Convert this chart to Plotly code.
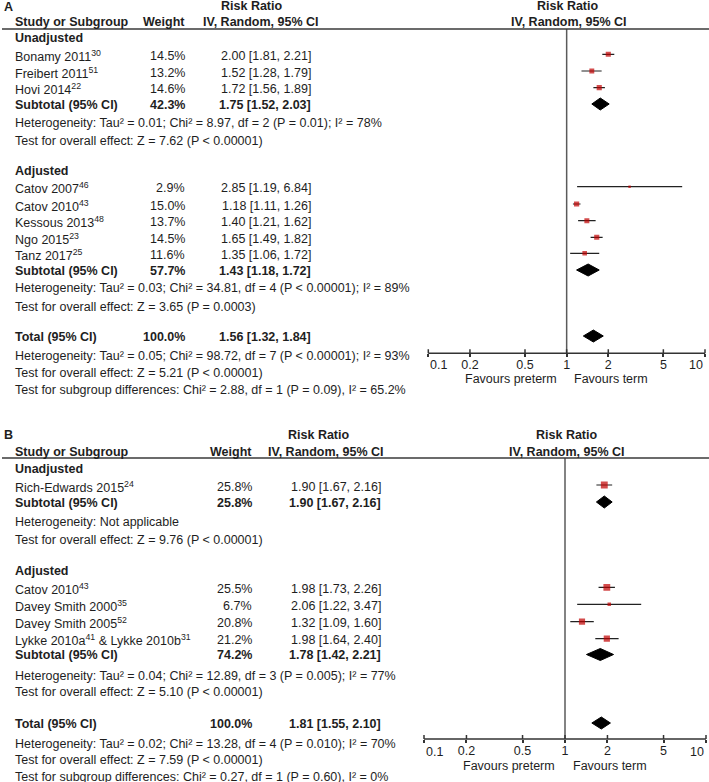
import math
import plotly.graph_objects as go

# ---------------- DATA ----------------
# Panel A
A_unadj_names = ["Bonamy 2011", "Freibert 2011", "Hovi 2014"]
A_unadj_refs = ["30", "51", "22"]
A_unadj_weight = [14.5, 13.2, 14.6]
A_unadj_rr = [2.00, 1.52, 1.72]
A_unadj_lo = [1.81, 1.28, 1.56]
A_unadj_hi = [2.21, 1.79, 1.89]
A_unadj_sub = [42.3, 1.75, 1.52, 2.03]   # weight, rr, lo, hi
A_unadj_het = "Heterogeneity: Tau² = 0.01; Chi² = 8.97, df = 2 (P = 0.01); I² = 78%"
A_unadj_test = "Test for overall effect: Z = 7.62 (P &lt; 0.00001)"

A_adj_names = ["Catov 2007", "Catov 2010", "Kessous 2013", "Ngo 2015", "Tanz 2017"]
A_adj_refs = ["46", "43", "48", "23", "25"]
A_adj_weight = [2.9, 15.0, 13.7, 14.5, 11.6]
A_adj_rr = [2.85, 1.18, 1.40, 1.65, 1.35]
A_adj_lo = [1.19, 1.11, 1.21, 1.49, 1.06]
A_adj_hi = [6.84, 1.26, 1.62, 1.82, 1.72]
A_adj_sub = [57.7, 1.43, 1.18, 1.72]
A_adj_het = "Heterogeneity: Tau² = 0.03; Chi² = 34.81, df = 4 (P &lt; 0.00001); I² = 89%"
A_adj_test = "Test for overall effect: Z = 3.65 (P = 0.0003)"

A_total = [100.0, 1.56, 1.32, 1.84]
A_total_het = "Heterogeneity: Tau² = 0.05; Chi² = 98.72, df = 7 (P &lt; 0.00001); I² = 93%"
A_total_test = "Test for overall effect: Z = 5.21 (P &lt; 0.00001)"
A_subgroup = "Test for subgroup differences: Chi² = 2.88, df = 1 (P = 0.09), I² = 65.2%"

# Panel B
B_unadj_names = ["Rich-Edwards 2015"]
B_unadj_refs = ["24"]
B_unadj_weight = [25.8]
B_unadj_rr = [1.90]
B_unadj_lo = [1.67]
B_unadj_hi = [2.16]
B_unadj_sub = [25.8, 1.90, 1.67, 2.16]
B_unadj_het = "Heterogeneity: Not applicable"
B_unadj_test = "Test for overall effect: Z = 9.76 (P &lt; 0.00001)"

B_adj_names = ["Catov 2010<sup>43</sup>", "Davey Smith 2000<sup>35</sup>", "Davey Smith 2005<sup>52</sup>",
               "Lykke 2010a<sup>41</sup> &amp; Lykke 2010b<sup>31</sup>"]
B_adj_refs = ["", "", "", ""]
B_adj_weight = [25.5, 6.7, 20.8, 21.2]
B_adj_rr = [1.98, 2.06, 1.32, 1.98]
B_adj_lo = [1.73, 1.22, 1.09, 1.64]
B_adj_hi = [2.26, 3.47, 1.60, 2.40]
B_adj_sub = [74.2, 1.78, 1.42, 2.21]
B_adj_het = "Heterogeneity: Tau² = 0.04; Chi² = 12.89, df = 3 (P = 0.005); I² = 77%"
B_adj_test = "Test for overall effect: Z = 5.10 (P &lt; 0.00001)"

B_total = [100.0, 1.81, 1.55, 2.10]
B_total_het = "Heterogeneity: Tau² = 0.02; Chi² = 13.28, df = 4 (P = 0.010); I² = 70%"
B_total_test = "Test for overall effect: Z = 7.59 (P &lt; 0.00001)"
B_subgroup = "Test for subgroup differences: Chi² = 0.27, df = 1 (P = 0.60), I² = 0%"

tick_vals = [0.1, 0.2, 0.5, 1, 2, 5, 10]
tick_text = ["0.1", "0.2", "0.5", "1", "2", "5", "10"]
null_effect = 1.0

# ---------------- LAYOUT / STYLE ----------------
W, H = 709, 782
FONT = "Liberation Sans, Arial, Helvetica, sans-serif"
FS = 12.5
TXT = "#1e1e1e"
SQ = "#C00000"
PAD_DEC = 0.02  # extra log-decades on each side of the axis so end ticks are not clipped

panels = {
    "A": dict(xa="x", label_xy=(8, 7), rr_hdr_x=251, iv_hdr_x=260.5, hdr_rr_y=6, hdr_y=22, line_y=29,
              name_x=13, w_x=187, ci_x=313, plot_rr_x=567, plot_iv_x=568.5,
              dom=(428.3, 705), axis_y=353.3, tick_lbl_y=364.5, fav_y=379, fav_pre=559, fav_term=572,
              unadj_y=38, unadj_rows=[54.3, 71, 87.7], unadj_sub_y=104, unadj_het_y=123, unadj_test_y=141,
              adj_y=171, adj_rows=[186.7, 204, 220.7, 237.3, 253.3], adj_sub_y=270, adj_het_y=288, adj_test_y=306.5,
              tot_y=336, tot_het_y=355.5, tot_test_y=373, sub_y=390),
    "B": dict(xa="x2", label_xy=(8, 435), rr_hdr_x=318.7, iv_hdr_x=326.3, hdr_rr_y=435, hdr_y=452, line_y=458,
              name_x=13, w_x=254, ci_x=383, plot_rr_x=566, plot_iv_x=567,
              dom=(424, 706), axis_y=739, tick_lbl_y=751.5, fav_y=765.7, fav_pre=557, fav_term=570.7,
              unadj_y=469, unadj_rows=[485], unadj_sub_y=502, unadj_het_y=522, unadj_test_y=540,
              adj_y=571, adj_rows=[587.3, 604.3, 621.7, 638.7], adj_sub_y=654.5, adj_het_y=676, adj_test_y=692,
              tot_y=723, tot_het_y=744, tot_test_y=760, sub_y=777),
}

data = {
    "A": dict(un=(A_unadj_names, A_unadj_refs, A_unadj_weight, A_unadj_rr, A_unadj_lo, A_unadj_hi),
              un_sub=A_unadj_sub, un_het=A_unadj_het, un_test=A_unadj_test,
              ad=(A_adj_names, A_adj_refs, A_adj_weight, A_adj_rr, A_adj_lo, A_adj_hi),
              ad_sub=A_adj_sub, ad_het=A_adj_het, ad_test=A_adj_test,
              tot=A_total, tot_het=A_total_het, tot_test=A_total_test, subg=A_subgroup),
    "B": dict(un=(B_unadj_names, B_unadj_refs, B_unadj_weight, B_unadj_rr, B_unadj_lo, B_unadj_hi),
              un_sub=B_unadj_sub, un_het=B_unadj_het, un_test=B_unadj_test,
              ad=(B_adj_names, B_adj_refs, B_adj_weight, B_adj_rr, B_adj_lo, B_adj_hi),
              ad_sub=B_adj_sub, ad_het=B_adj_het, ad_test=B_adj_test,
              tot=B_total, tot_het=B_total_het, tot_test=B_total_test, subg=B_subgroup),
}

TEXT_DY = 1.5
DIAMOND_HALF = 6
SQ_K = 1.35
UP_TICK = 4

fig = go.Figure()
annotations = []
shapes = []


def ann(text, x, y, anchor="left", bold=False, size=FS):
    if bold:
        text = "<b>" + text + "</b>"
    annotations.append(dict(text=text, x=x / W, y=1 - y / H, xref="paper", yref="paper",
                            xanchor=anchor, yanchor="middle", showarrow=False,
                            font=dict(family=FONT, size=size, color=TXT)))


def fmt_ci(rr, lo, hi):
    return f"{rr:.2f} [{lo:.2f}, {hi:.2f}]"


def add_studies(P, xa, group, rows):
    names, refs, wts, rrs, los, his = group
    lx, ly = [], []
    for i in range(len(names)):
        nm = names[i] + (f"<sup>{refs[i]}</sup>" if refs[i] else "")
        ann(nm, P["name_x"], rows[i] + TEXT_DY)
        ann(f"{wts[i]:.1f}%", P["w_x"], rows[i] + TEXT_DY, "right")
        ann(fmt_ci(rrs[i], los[i], his[i]), P["ci_x"], rows[i] + TEXT_DY, "right")
        lx += [los[i], his[i], None]
        ly += [rows[i], rows[i], None]
    fig.add_trace(go.Scatter(x=lx, y=ly, mode="lines", xaxis=xa, yaxis="y",
                             line=dict(color="#222222", width=1.2), hoverinfo="skip", showlegend=False))
    fig.add_trace(go.Scatter(x=rrs, y=rows, mode="markers", xaxis=xa, yaxis="y",
                             marker=dict(symbol="square", color=SQ,
                                         size=[max(2.5, SQ_K * math.sqrt(w)) for w in wts],
                                         line=dict(width=0)),
                             hoverinfo="skip", showlegend=False))


def add_pooled(P, xa, pooled, label, y):
    w, rr, lo, hi = pooled
    ann(label, P["name_x"], y + TEXT_DY * 0.6, bold=True)
    ann(f"{w:.1f}%", P["w_x"], y + TEXT_DY * 0.6, "right", bold=True)
    ann(fmt_ci(rr, lo, hi), P["ci_x"], y + TEXT_DY * 0.6, "right", bold=True)
    fig.add_trace(go.Scatter(x=[lo, rr, hi, rr, lo], y=[y, y - DIAMOND_HALF, y, y + DIAMOND_HALF, y],
                             mode="lines", fill="toself", fillcolor="#000000",
                             line=dict(color="#000000", width=1), xaxis=xa, yaxis="y",
                             hoverinfo="skip", showlegend=False))


layout_axes = {}
for key, P in panels.items():
    D = data[key]
    xa = P["xa"]
    # headers
    ann(key, P["label_xy"][0], P["label_xy"][1], "center", bold=True)
    ann("Risk Ratio", P["rr_hdr_x"], P["hdr_rr_y"], "center", bold=True)
    ann("Study or Subgroup", P["name_x"], P["hdr_y"], bold=True)
    ann("Weight", P["w_x"], P["hdr_y"], "right", bold=True)
    ann("IV, Random, 95% CI", P["iv_hdr_x"], P["hdr_y"], "center", bold=True)
    ann("Risk Ratio", P["plot_rr_x"], P["hdr_rr_y"], "center", bold=True)
    ann("IV, Random, 95% CI", P["plot_iv_x"], P["hdr_y"], "center", bold=True)
    shapes.append(dict(type="line", xref="paper", yref="paper", x0=2 / W, x1=1,
                       y0=1 - P["line_y"] / H, y1=1 - P["line_y"] / H,
                       line=dict(color="#3a3a3a", width=1.5)))
    # unadjusted
    ann("Unadjusted", P["name_x"], P["unadj_y"], bold=True)
    add_studies(P, xa, D["un"], P["unadj_rows"])
    add_pooled(P, xa, D["un_sub"], "Subtotal (95% CI)", P["unadj_sub_y"])
    ann(D["un_het"], P["name_x"], P["unadj_het_y"])
    ann(D["un_test"], P["name_x"], P["unadj_test_y"])
    # adjusted
    ann("Adjusted", P["name_x"], P["adj_y"], bold=True)
    add_studies(P, xa, D["ad"], P["adj_rows"])
    add_pooled(P, xa, D["ad_sub"], "Subtotal (95% CI)", P["adj_sub_y"])
    ann(D["ad_het"], P["name_x"], P["adj_het_y"])
    ann(D["ad_test"], P["name_x"], P["adj_test_y"])
    # total
    add_pooled(P, xa, D["tot"], "Total (95% CI)", P["tot_y"])
    ann(D["tot_het"], P["name_x"], P["tot_het_y"])
    ann(D["tot_test"], P["name_x"], P["tot_test_y"])
    ann(D["subg"], P["name_x"], P["sub_y"])
    # favours
    ann("Favours preterm", P["fav_pre"], P["fav_y"], "right")
    ann("Favours term", P["fav_term"], P["fav_y"], "left")
    # null line (in data coords of the x axis)
    fig.add_trace(go.Scatter(x=[null_effect, null_effect], y=[P["line_y"], P["axis_y"]], mode="lines",
                             xaxis=xa, yaxis="y", line=dict(color="#5a5a5a", width=1.5),
                             hoverinfo="skip", showlegend=False))
    # upward part of tick marks
    tx, ty = [], []
    for v in tick_vals:
        tx += [v, v, None]
        ty += [P["axis_y"], P["axis_y"] - UP_TICK, None]
    fig.add_trace(go.Scatter(x=tx, y=ty, mode="lines", xaxis=xa, yaxis="y",
                             line=dict(color="#333333", width=1.5), hoverinfo="skip", showlegend=False))
    axname = "xaxis" if xa == "x" else "xaxis2"
    pos = 1 - P["axis_y"] / H
    x0, x1 = P["dom"]
    ppd = (x1 - x0) / 2.0  # pixels per decade
    dom = [(x0 - PAD_DEC * ppd) / W, min(1.0, (x1 + PAD_DEC * ppd) / W)]
    rng_hi = 1 + PAD_DEC if (x1 + PAD_DEC * ppd) <= W else 1 + (W - x1) / ppd
    inner_text = [""] + tick_text[1:-1] + [""]
    layout_axes[axname] = dict(type="log", range=[-1 - PAD_DEC, rng_hi], domain=dom, anchor="free", position=pos,
                               showline=False,
                               ticks="outside", ticklen=3, tickwidth=1.5, tickcolor="#333333",
                               tickmode="array", tickvals=tick_vals, ticktext=inner_text,
                               ticklabelstandoff=-3,
                               tickfont=dict(family=FONT, size=FS, color=TXT), automargin=False,
                               showgrid=False, zeroline=False, fixedrange=True)
    # end tick labels sit inside the axis ends (RevMan style), placed on the axis scale
    for v, t, anc in [(tick_vals[0], tick_text[0], "left"), (tick_vals[-1], tick_text[-1], "right")]:
        annotations.append(dict(text=t, x=math.log10(v), y=1 - P["tick_lbl_y"] / H, xref=xa, yref="paper",
                                xanchor=anc, yanchor="middle", showarrow=False,
                                font=dict(family=FONT, size=FS, color=TXT)))
    # axis line exactly between the end ticks
    fig.add_trace(go.Scatter(x=[tick_vals[0], tick_vals[-1]], y=[P["axis_y"], P["axis_y"]], mode="lines",
                             xaxis=xa, yaxis="y", line=dict(color="#333333", width=1.5),
                             hoverinfo="skip", showlegend=False))

fig.update_layout(
    width=W, height=H, margin=dict(l=0, r=0, t=0, b=0, pad=0, autoexpand=False),
    paper_bgcolor="white", plot_bgcolor="rgba(0,0,0,0)",
    yaxis=dict(range=[H, 0], domain=[0, 1], visible=False, fixedrange=True, automargin=False),
    annotations=annotations, shapes=shapes, showlegend=False,
    **layout_axes,
)

fig.write_html("out.html", config={"displayModeBar": False},
               post_script="document.body.style.margin='0';document.body.style.padding='0';"
                           "document.documentElement.style.overflow='hidden';")
